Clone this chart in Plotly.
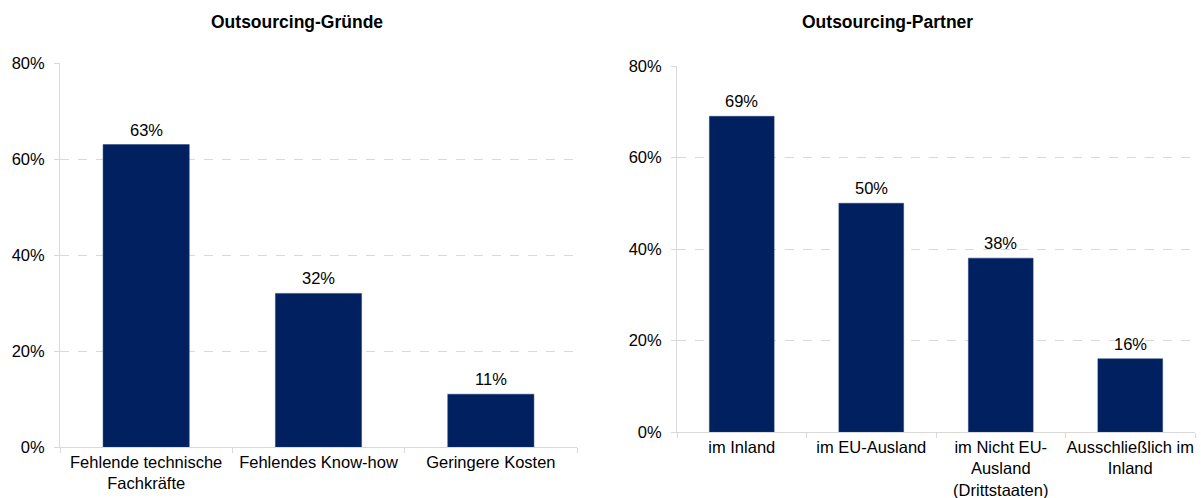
import plotly.graph_objects as go

# Outsourcing reasons (left panel)
gruende = ["Fehlende technische<br>Fachkräfte", "Fehlendes Know-how", "Geringere Kosten"]
gruende_werte = [63, 32, 11]

# Outsourcing partners (right panel)
partner = ["im Inland", "im EU-Ausland", "im Nicht EU-<br>Ausland<br>(Drittstaaten)",
           "Ausschließlich im<br>Inland"]
partner_werte = [69, 50, 38, 16]

y_ticks = [0, 20, 40, 60, 80]
y_ticktext = [f"{v}%" for v in y_ticks]

W, H = 1201, 498
BAR = "#002060"
AXIS = "#d9d9d9"
FONT = "Liberation Sans, Arial, sans-serif"
FS = 16.5

fig = go.Figure()

panels = [("x", "y", gruende, gruende_werte), ("x2", "y2", partner, partner_werte)]
annotations = []
for xa, ya, cats, vals in panels:
    fig.add_trace(go.Bar(
        x=cats, y=vals, xaxis=xa, yaxis=ya,
        marker=dict(color=BAR, line=dict(color="#1f3a78", width=0.5)),
        width=0.5, showlegend=False,
    ))
    # value labels above each bar
    for c, v in zip(cats, vals):
        annotations.append(dict(
            x=c, y=v, xref=xa, yref=ya, text=f"{v}%", showarrow=False,
            xanchor="center", yanchor="bottom", yshift=4,
            font=dict(size=FS, family=FONT, color="#000000"),
        ))


def px_x(v):
    return v / W


def px_y(v):
    return 1 - v / H


xaxis_common = dict(
    showline=True, linecolor=AXIS, linewidth=1,
    ticks="outside", tickson="boundaries", ticklen=5, tickcolor=AXIS,
    showgrid=False, tickfont=dict(size=FS, color="#000000", family=FONT),
    tickangle=0, fixedrange=True, automargin=False,
)
yaxis_common = dict(
    range=[0, 80], tickvals=y_ticks, ticktext=y_ticktext,
    showline=True, linecolor=AXIS, linewidth=1,
    ticks="outside", ticklen=5, tickcolor=AXIS,
    showgrid=True, gridcolor=AXIS, griddash="dash", gridwidth=1,
    zeroline=False, tickfont=dict(size=FS, color="#000000", family=FONT),
    ticklabelstandoff=6, fixedrange=True, automargin=False,
)

for text, cx in [("<b>Outsourcing-Gründe</b>", 297), ("<b>Outsourcing-Partner</b>", 887)]:
    annotations.append(dict(
        text=text, x=px_x(cx), y=px_y(22), xref="paper", yref="paper",
        xanchor="center", yanchor="middle", showarrow=False,
        font=dict(size=17.5, family=FONT, color="#000000"),
    ))

fig.update_layout(
    width=W, height=H,
    margin=dict(l=0, r=0, t=0, b=0, autoexpand=False),
    paper_bgcolor="white", plot_bgcolor="white",
    font=dict(family=FONT, size=FS, color="#000000"),
    xaxis=dict(domain=[px_x(60), px_x(577)], anchor="y", **xaxis_common),
    yaxis=dict(domain=[px_y(447), px_y(63)], anchor="x", **yaxis_common),
    xaxis2=dict(domain=[px_x(677), px_x(1195)], anchor="y2", **xaxis_common),
    yaxis2=dict(domain=[px_y(432), px_y(66)], anchor="x2", **yaxis_common),
    annotations=annotations,
)

fig.write_html("out.html")
